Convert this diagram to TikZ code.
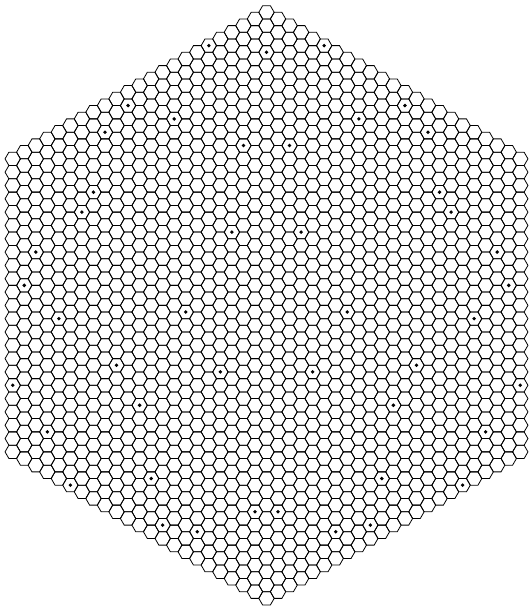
\documentclass[tikz,border=0pt]{standalone}
\begin{document}
\begin{tikzpicture}[x=1pt,y=-1pt,
  hexline/.style={draw=black,line width=0.8pt,line join=miter},
  hexdot/.style={fill=black}]
\fill[white] (0,0) rectangle (529,606);
\useasboundingbox (0,0) rectangle (529,606);
\def\S{7.69}
\def\CX{266.5}
\def\CY{305.35}
\foreach \q in {-22,...,22} {
  \pgfmathtruncatemacro\rmin{max(-22,-22-\q)}
  \pgfmathtruncatemacro\rmax{min(22,22-\q)}
  \foreach \r in {\rmin,...,\rmax} {
    \pgfmathsetmacro\cx{\CX+1.5*\S*\q}
    \pgfmathsetmacro\cy{\CY+1.7320508*\S*(\r+\q/2)}
    \draw[hexline] (\cx,\cy) ++(0:\S) -- ++(120:\S) -- ++(180:\S) -- ++(240:\S) -- ++(300:\S) -- ++(0:\S) -- cycle;
  }
}
\foreach \q/\r in {-5/-17, 0/-19, 5/-22, -12/-9, -8/-10, -14/-6, -2/-11, -15/-1,
  12/-21, 8/-18, 14/-20, 2/-13, 15/-16,
  -16/1, -3/-4, -20/6, -21/9, -7/4, -18/10, -13/11, -4/7, -22/17, -11/13,
  16/-15, 3/-7, 20/-14, 21/-12, 7/-3, 18/-8, 13/-2, 4/3, 22/-5, 11/2,
  -19/19, -10/18, -17/22, -1/16, -9/21, -6/20,
  19/0, 10/8, 17/5, 1/15, 9/12, 6/14} {
  \pgfmathsetmacro\cx{\CX+1.5*\S*\q}
  \pgfmathsetmacro\cy{\CY+1.7320508*\S*(\r+\q/2)}
  \fill[hexdot] (\cx,\cy) circle (1.9);
}
\end{tikzpicture}
\end{document}
